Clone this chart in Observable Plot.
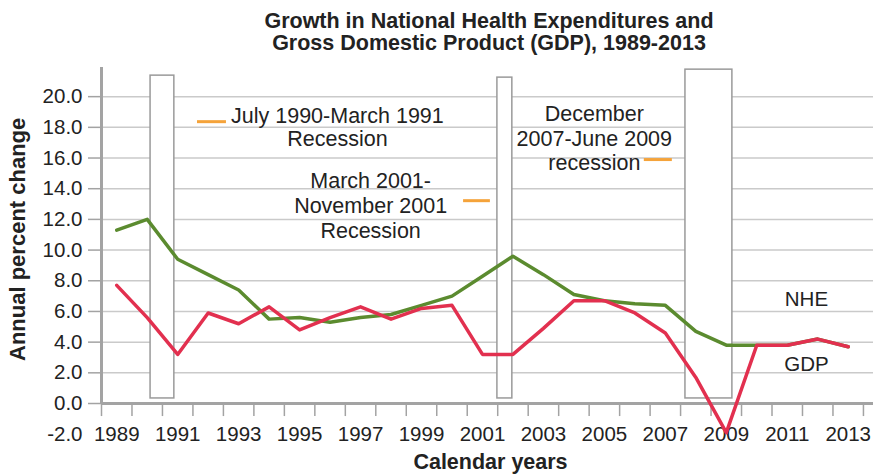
<!DOCTYPE html>
<html>
<head>
<meta charset="utf-8">
<script src="https://cdn.jsdelivr.net/npm/d3@7"></script>
<script src="https://cdn.jsdelivr.net/npm/@observablehq/plot@0.6"></script>
<style>
  body { margin: 0; background: #fff; font-family: "Liberation Sans", Arial, Helvetica, sans-serif; }
  #title { box-sizing: border-box; width: 874px; height: 60px; padding: 10px 0 0 104px; text-align: center;
           font-weight: bold; font-size: 21.5px; line-height: 22px; color: #222; }
</style>
</head>
<body>
<div id="title">Growth in National Health Expenditures and<br>Gross Domestic Product (GDP), 1989-2013</div>
<div id="chart"></div>
<script>
// ---- data ----
const years = [1989, 1990, 1991, 1992, 1993, 1994, 1995, 1996, 1997, 1998, 1999, 2000, 2001,
               2002, 2003, 2004, 2005, 2006, 2007, 2008, 2009, 2010, 2011, 2012, 2013];
const nhe = [11.3, 12.0, 9.4, 8.4, 7.4, 5.5, 5.6, 5.3, 5.6, 5.8, 6.4, 7.0, 8.3,
             9.6, 8.4, 7.1, 6.7, 6.5, 6.4, 4.7, 3.8, 3.8, 3.8, 4.2, 3.7];
const gdp = [7.7, 5.6, 3.2, 5.9, 5.2, 6.3, 4.8, 5.6, 6.3, 5.5, 6.2, 6.4, 3.2,
             3.2, 4.9, 6.7, 6.7, 5.9, 4.6, 1.7, -1.9, 3.8, 3.8, 4.2, 3.7];

const yTicks = [0, 2, 4, 6, 8, 10, 12, 14, 16, 18, 20];
const yExtraTick = [-2];
const xLabelYears = [1989, 1991, 1993, 1995, 1997, 1999, 2001, 2003, 2005, 2007, 2009, 2011, 2013];

// recession boxes (in year / percent units)
const recStart = [1990.11, 2001.49, 2007.66];
const recEnd   = [1990.89, 2001.98, 2009.20];
const recTop   = [21.37, 21.24, 21.76];
const recBottom = [0.33, 0.33, 0.33];

// annotations
const annoText = ["July 1990-March 1991\nRecession", "March 2001-\nNovember 2001\nRecession", "December\n2007-June 2009\nrecession"];
const annoX = [1996.24, 1997.33, 2004.67];
const annoY = [18.03, 12.96, 17.30];
const annoLineHeight = [1.07, 1.16, 1.14];

const dashX1 = [1991.65, 2000.38, 2006.31];
const dashX2 = [1992.60, 2001.26, 2007.23];
const dashY  = [18.37, 13.22, 15.90];

const seriesNames = ["NHE", "GDP"];
const seriesLabelX = [2011.63, 2011.63];
const seriesLabelY = [6.78, 2.54];

// ---- tables built from arrays ----
const table = years.map((year, i) => ({year, nhe: nhe[i], gdp: gdp[i]}));
const recessions = recStart.map((s, i) => ({start: s, end: recEnd[i], top: recTop[i], bottom: recBottom[i]}));
const dashes = dashY.map((y, i) => ({x1: dashX1[i], x2: dashX2[i], y}));
const bounds = years.map(y => y - 0.5).concat([years[years.length - 1] + 0.5]);

const textColor = "#222";
const axisGray = "#a3a3a3";
const fmt1 = d => d.toFixed(1);

const plot = Plot.plot({
  width: 874,
  height: 415,
  marginLeft: 101,
  marginRight: 1,
  marginTop: 7,
  marginBottom: 41.3,
  style: {fontFamily: '"Liberation Sans", Arial, Helvetica, sans-serif', fontSize: "20.5px", color: textColor, background: "white"},
  x: {domain: [1988.5, 2013.83], label: null},
  y: {domain: [-2, 21.9], label: null},
  marks: [
    Plot.ruleY(yTicks.filter(d => d !== 0), {stroke: "#cacaca", strokeWidth: 1.5}),
    Plot.rect(recessions, {x1: "start", x2: "end", y1: "bottom", y2: "top", fill: "white", stroke: "#9a9a9a", strokeWidth: 1.5}),
    Plot.ruleY([0], {stroke: axisGray, strokeWidth: 3}),
    Plot.ruleX([1988.5], {y1: 0, y2: 21.9, stroke: axisGray, strokeWidth: 3}),
    Plot.ruleX(bounds, {y1: 0, y2: -0.85, stroke: axisGray, strokeWidth: 1.5}),
    Plot.axisY({ticks: yTicks, tickSize: 13, tickPadding: 6, tickFormat: fmt1, stroke: axisGray, strokeWidth: 1.5, color: textColor, fontSize: 20.5, label: null}),
    Plot.axisY({ticks: yExtraTick, tickSize: 0, tickPadding: 19, tickFormat: fmt1, color: textColor, fontSize: 20.5, label: null}),
    Plot.axisX({ticks: xLabelYears, anchor: "bottom", tickSize: 0, tickPadding: -8, tickFormat: d => String(d), color: textColor, fontSize: 20.5, label: null}),
    Plot.line(table, {x: "year", y: "nhe", stroke: "#5b8b2f", strokeWidth: 3.5}),
    Plot.line(table, {x: "year", y: "gdp", stroke: "#e2304f", strokeWidth: 3.5}),
    Plot.ruleY(dashes, {x1: "x1", x2: "x2", y: "y", stroke: "#f5a33a", strokeWidth: 3}),
    ...annoText.map((t, i) => Plot.text([t], {x: [annoX[i]], y: [annoY[i]], text: d => d, fontSize: 21.5, fill: textColor, lineAnchor: "middle", lineHeight: annoLineHeight[i]})),
    Plot.text(seriesNames, {x: seriesLabelX, y: seriesLabelY, fontSize: 20.5, fill: textColor, lineAnchor: "middle"}),
    Plot.text(["Annual percent change"], {frameAnchor: "left", textAnchor: "middle", rotate: -90, dx: -83.5, dy: -11.5, fontWeight: "bold", fontSize: 22, fill: textColor, lineAnchor: "middle"}),
    Plot.text(["Calendar years"], {frameAnchor: "bottom", textAnchor: "middle", dx: 3, dy: 27.8, fontWeight: "bold", fontSize: 21.5, fill: textColor, lineAnchor: "middle"})
  ]
});
document.getElementById("chart").appendChild(plot);
</script>
</body>
</html>
